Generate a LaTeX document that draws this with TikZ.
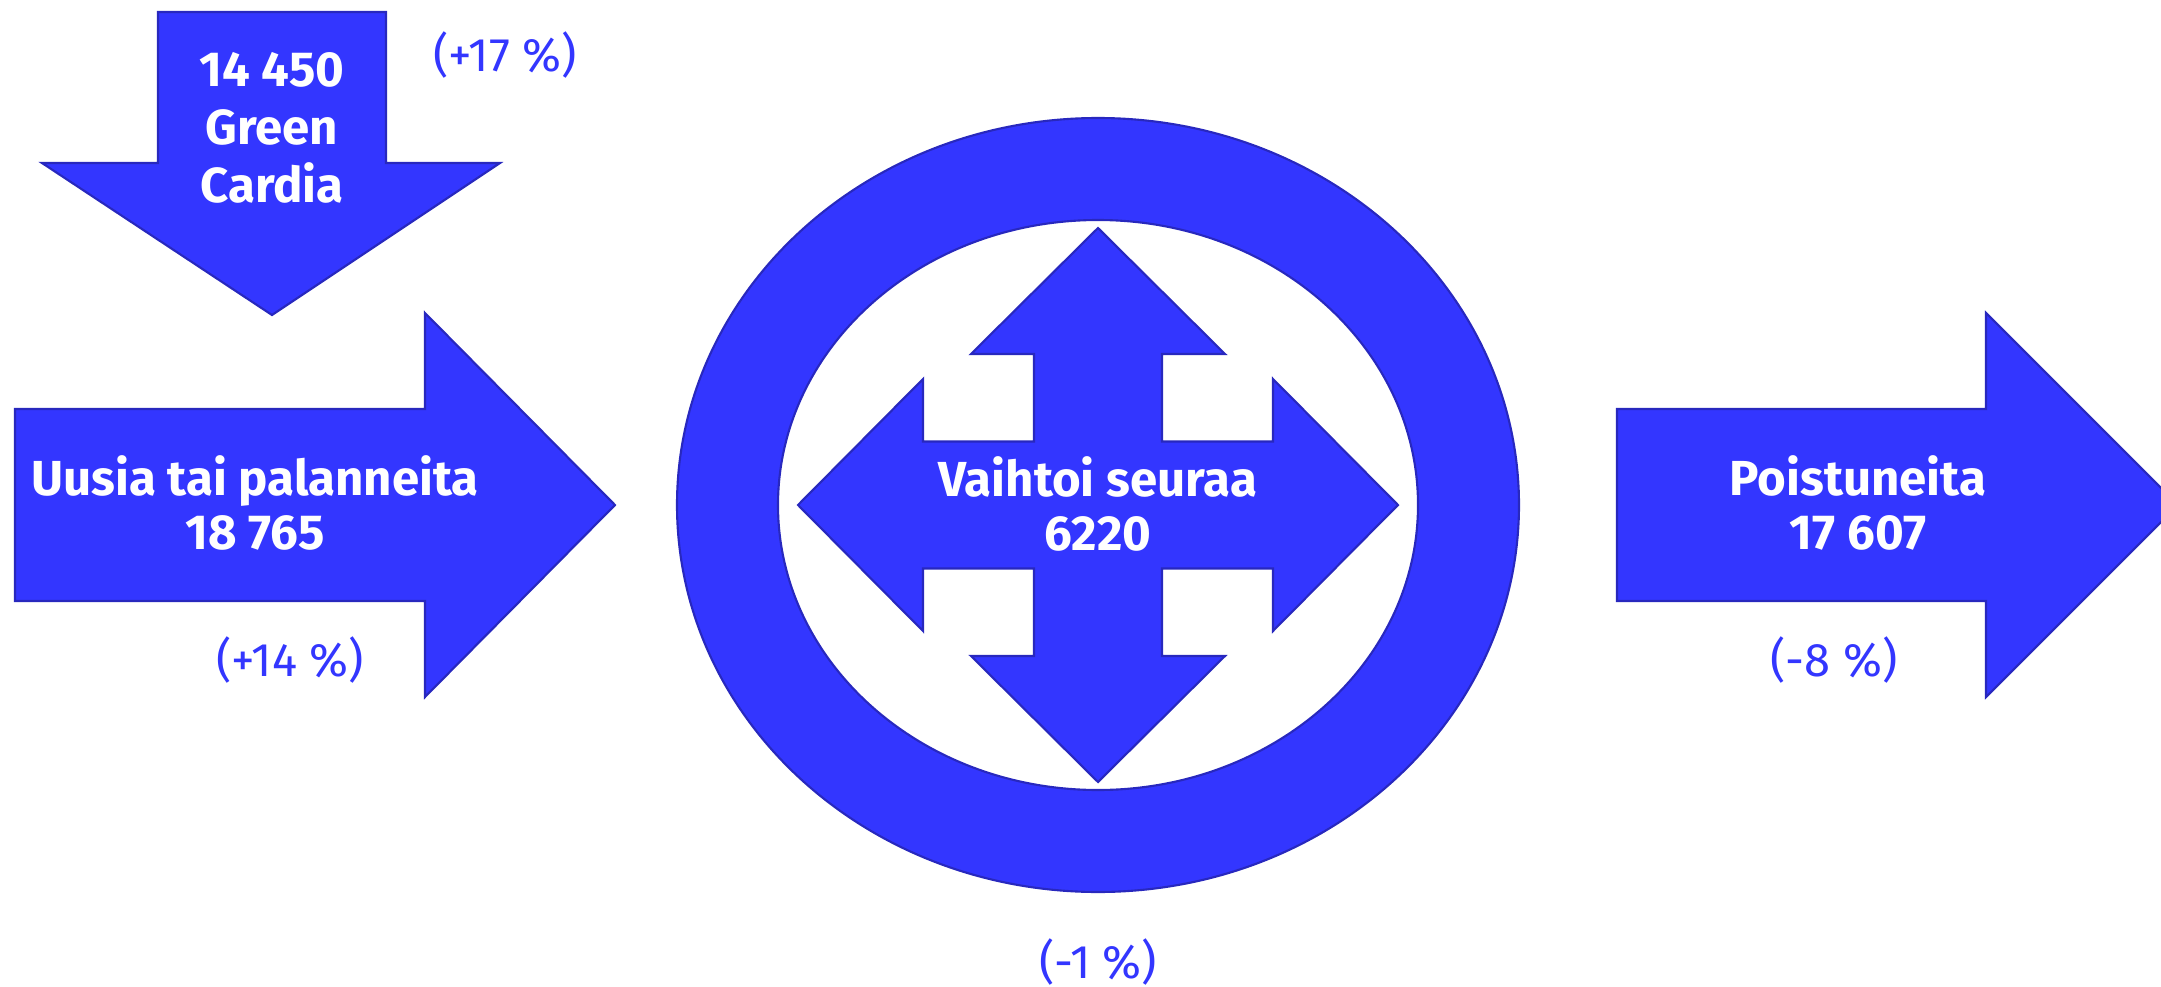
\documentclass[tikz,border=0pt]{standalone}
\usepackage{fontspec}
\setmainfont{Fira Sans}
\usepackage{tikz}
\usepackage{xcolor}
\definecolor{flowblue}{RGB}{51,54,255}
\definecolor{flowedge}{RGB}{40,40,190}

\tikzset{
  flowshape/.style={fill=flowblue, draw=flowedge, line width=0.6pt, line join=miter},
  flowlabel/.style={text=white, align=center, font=\bfseries\fontsize{14}{15.5}\selectfont},
  changelabel/.style={text=flowblue, font=\fontsize{13.4}{15}\selectfont}
}

\begin{document}
\begin{tikzpicture}
                    \useasboundingbox (0,0) rectangle (21.61,9.86);

                    % Incoming arrow from Green Cardia (top left)
                    \draw[flowshape] (1.58,9.74) -- (3.86,9.74) -- (3.86,8.23) -- (5.00,8.23) -- (2.72,6.71) -- (0.42,8.23) -- (1.58,8.23) -- cycle;
                    \node[flowlabel, font=\bfseries\fontsize{14}{16.5}\selectfont] (green) at (2.72,8.58) {14 450\\Green\\Cardia};
                    \node[changelabel] (greenchange) at (5.05,9.31) {(+17 \%)};

                    % New or returning members (left)
                    \draw[flowshape] (0.15,5.77) -- (4.25,5.77) -- (4.25,6.73) -- (6.15,4.81) -- (4.25,2.89) -- (4.25,3.85) -- (0.15,3.85) -- cycle;
                    \node[flowlabel] (uusia) at (2.55,4.83) {Uusia tai palanneita\\18 765};
                    \node[changelabel] (uusiachange) at (2.90,3.26) {(+14 \%)};

                    % Ring round the club switchers
                    \def\cx{10.98}
                    \def\cy{4.81}
                    \fill[flowblue, even odd rule] (\cx,\cy) ellipse (4.21 and 3.87) (\cx,\cy) ellipse (3.20 and 2.85);
                    \draw[flowedge, line width=0.6pt] (\cx,\cy) ellipse (4.21 and 3.87);
                    \draw[flowedge, line width=0.6pt] (\cx,\cy) ellipse (3.20 and 2.85);

                    % Four-way arrow inside the ring
                    \draw[flowshape, shift={(\cx,\cy)}]
                        (0,2.77) -- (1.27,1.51) -- (0.64,1.51) -- (0.64,0.635) -- (1.75,0.635) -- (1.75,1.26)
                        -- (3.0,0) -- (1.75,-1.26) -- (1.75,-0.635) -- (0.64,-0.635) -- (0.64,-1.51) -- (1.27,-1.51)
                        -- (0,-2.77) -- (-1.27,-1.51) -- (-0.64,-1.51) -- (-0.64,-0.635) -- (-1.75,-0.635) -- (-1.75,-1.26)
                        -- (-3.0,0) -- (-1.75,1.26) -- (-1.75,0.635) -- (-0.64,0.635) -- (-0.64,1.51) -- (-1.27,1.51) -- cycle;
                    \node[flowlabel] (vaihtoi) at (\cx,4.82) {Vaihtoi seuraa\\6220};
                    \node[changelabel] (vaihtoichange) at (\cx,0.24) {(-1 \%)};

                    % Leaving members (right, cut by the edge)
                    \draw[flowshape] (16.17,5.77) -- (19.86,5.77) -- (19.86,6.73) -- (21.78,4.81) -- (19.86,2.89) -- (19.86,3.85) -- (16.17,3.85) -- cycle;
                    \node[flowlabel] (poistuneita) at (18.58,4.83) {Poistuneita\\17 607};
                    \node[changelabel] (poistuneitachange) at (18.34,3.26) {(-8 \%)};
\end{tikzpicture}
\end{document}
